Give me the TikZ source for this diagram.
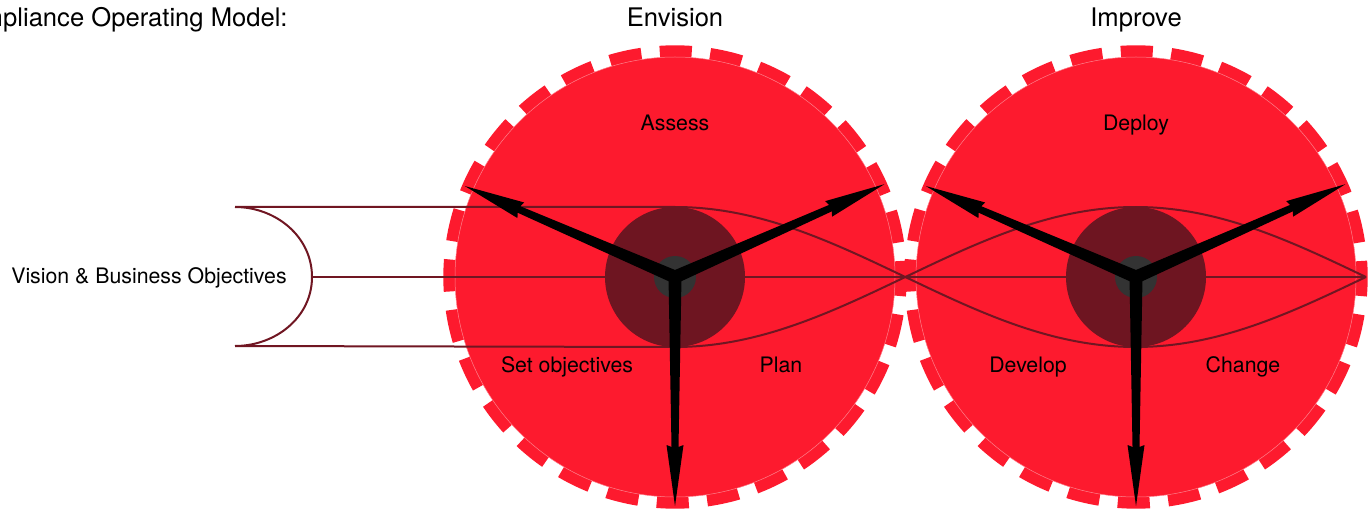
\documentclass[tikz,border=0pt]{standalone}
\usepackage{fontspec}
\setmainfont{TeX Gyre Heros}
\usepackage{tikz}
\usetikzlibrary{calc}
\definecolor{gearred}{RGB}{253,26,46}
\definecolor{hubred}{RGB}{110,21,33}
\definecolor{hubgrey}{RGB}{51,51,51}
\definecolor{wavered}{RGB}{112,22,34}
\def\drawwave{\draw[color=wavered, line width=1pt]}
\def\labelnode{\node[font=\fontsize{10.65}{12}\selectfont, text height=1.7ex, text depth=0.4ex]}
\def\titlenode{\node[font=\fontsize{12.8}{14}\selectfont, text height=1.7ex, text depth=0.4ex]}
% tapered hand with its arrow head: #1 centre, #2 angle
\newcommand{\gearhand}[2]{\fill[black, shift={(#1)}, rotate=#2] (0,6.5) -- (170,3.5) -- (168,8.5) -- (229,0) -- (168,-8.5) -- (170,-3.5) -- (0,-6.5) -- cycle;}

\begin{document}
\begin{tikzpicture}[x=0.5pt,y=0.5pt,inner sep=0pt]
\useasboundingbox (0,0) rectangle (1368,509);
\coordinate (envision) at (675,232);
\coordinate (improve) at (1136,232);

% Gear bodies and their 28 teeth
\foreach \g in {envision,improve}{
  \fill[gearred] (\g) circle (220);
  \draw[gearred, line width=6.2pt, dash pattern=on 16pt off 9.25pt, dash phase=8pt] (\g) circle (225.5);
  \draw[white!45!gearred, line width=0.25pt] (\g) circle (220);
}

% The bracket and the three lines running through both gears
\coordinate (bracket_top) at (235,302);
\coordinate (bracket_tip) at (312,232);
\coordinate (bracket_bot) at (235,163);
\coordinate (wave_end) at (1366,232);
\drawwave (bracket_top) to[out=0,in=90] (bracket_tip) to[out=-90,in=0] (bracket_bot);
\drawwave (bracket_tip) -- (wave_end);
% quarter period is 230.3, so one unit is 0.3908 degrees
\drawwave (bracket_top) -- plot[domain=675:1366, samples=60, smooth] (\x,{232+70*cos(0.3908*(\x-675))});
\drawwave (bracket_bot) -- plot[domain=675:1366, samples=60, smooth] (\x,{232-70*cos(0.3908*(\x-675))});

% Hubs and hands
\foreach \g in {envision,improve}{
  \fill[hubred] (\g) circle (70);
  \fill[hubgrey] (\g) circle (21);
  \gearhand{\g}{156.6}
  \gearhand{\g}{23.9}
  \gearhand{\g}{-90}
}

\titlenode (model_title) at (288,489) [anchor=east] {Compliance Operating Model:};
\titlenode (envision_title) at ($ (envision) + (0,257) $) {Envision};
\titlenode (improve_title) at ($ (improve) + (0,257) $) {Improve};

\labelnode (objectives) at (149,232) {Vision \& Business Objectives};
\labelnode (assess) at ($ (envision) + (0,153) $) {Assess};
\labelnode (set_obj) at ($ (envision) + (-108,-89) $) {Set objectives};
\labelnode (plan) at ($ (envision) + (106,-89) $) {Plan};
\labelnode (deploy) at ($ (improve) + (0,153) $) {Deploy};
\labelnode (develop) at ($ (improve) + (-108,-89) $) {Develop};
\labelnode (change) at ($ (improve) + (107,-89) $) {Change};
\end{tikzpicture}
\end{document}
